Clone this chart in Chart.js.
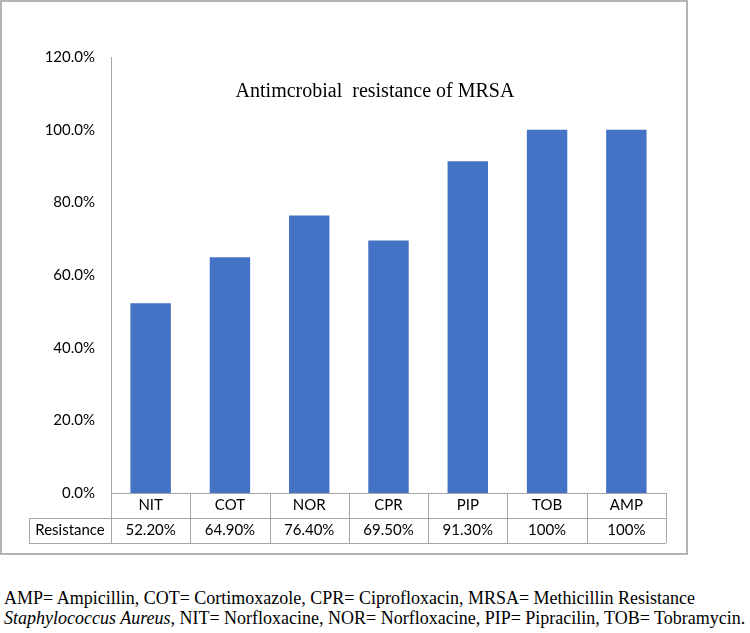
<!DOCTYPE html>
<html>
<head>
<meta charset="utf-8">
<script src="https://cdn.jsdelivr.net/npm/chart.js@4/dist/chart.umd.min.js"></script>
<style>
  html, body { margin: 0; padding: 0; background: #fff; width: 750px; height: 633px; overflow: hidden; }
  #wrap { position: absolute; left: 0; top: 0; width: 750px; height: 560px; }
  #frame { position: absolute; left: 0; top: 0; width: 684px; height: 551px; border: 2px solid #b4b4b4; box-sizing: content-box; pointer-events: none; }
  #caption { position: absolute; left: 4px; top: 588px; font-family: "Liberation Serif", "Times New Roman", serif; font-size: 18px; line-height: 20px; color: #000; white-space: nowrap; }
</style>
</head>
<body>
<div id="wrap"><canvas id="c" width="750" height="560"></canvas></div>
<div id="frame"></div>
<div id="caption">AMP= Ampicillin, COT= Cortimoxazole, CPR= Ciprofloxacin, MRSA= Methicillin Resistance<br><i>Staphylococcus Aureus</i>, NIT= Norfloxacine, NOR= Norfloxacine, PIP= Pipracilin, TOB= Tobramycin.</div>
<script>
const categories = ["NIT", "COT", "NOR", "CPR", "PIP", "TOB", "AMP"];
const resistance = [0.522, 0.649, 0.764, 0.695, 0.913, 1.0, 1.0];
const tableLabels = ["52.20%", "64.90%", "76.40%", "69.50%", "91.30%", "100%", "100%"];
const seriesName = "Resistance";
const chartTitle = "Antimcrobial  resistance of MRSA";

const LINE = "#a6a6a6";
const FONT = "Lato, 'Open Sans', sans-serif";

const tablePlugin = {
  id: "dataTable",
  afterDraw(chart) {
    const ctx = chart.ctx;
    const x = chart.scales.x;
    const area = chart.chartArea;
    const rowH = 25;
    const top = area.bottom;
    const left = area.left, right = area.right;
    const labelLeft = 29;
    const n = categories.length;
    const step = (right - left) / n;
    ctx.save();
    ctx.strokeStyle = LINE;
    ctx.lineWidth = 1;
    ctx.beginPath();
    ctx.moveTo(labelLeft, Math.round(top + rowH) + 0.5); ctx.lineTo(right, Math.round(top + rowH) + 0.5);
    ctx.moveTo(labelLeft, Math.round(top + 2 * rowH) + 0.5); ctx.lineTo(right, Math.round(top + 2 * rowH) + 0.5);
    for (let i = 0; i <= n; i++) {
      const xx = Math.round(left + i * step) + 0.5;
      ctx.moveTo(xx, top); ctx.lineTo(xx, top + 2 * rowH);
    }
    ctx.moveTo(labelLeft + 0.5, top + rowH); ctx.lineTo(labelLeft + 0.5, top + 2 * rowH);
    ctx.stroke();

    ctx.fillStyle = "#000";
    ctx.font = "15px " + FONT;
    ctx.textAlign = "center";
    ctx.textBaseline = "middle";
    ctx.fillText(seriesName, (labelLeft + left) / 2, top + rowH * 1.5);
    tableLabels.forEach((t, i) => {
      ctx.fillText(t, x.getPixelForValue(i), top + rowH * 1.5);
    });

    ctx.font = "20px 'Liberation Serif', 'Times New Roman', serif";
    ctx.fillText(chartTitle, 375, 92);
    ctx.restore();
  }
};

new Chart(document.getElementById("c"), {
  type: "bar",
  data: {
    labels: categories,
    datasets: [{
      label: seriesName,
      data: resistance,
      backgroundColor: "#4472c4",
      borderWidth: 0,
      barPercentage: 0.51,
      categoryPercentage: 1.0
    }]
  },
  options: {
    responsive: false,
    animation: false,
    layout: { padding: { left: 0, right: 84, top: 57, bottom: 17 } },
    plugins: { legend: { display: false }, title: { display: false }, tooltip: { enabled: false } },
    scales: {
      x: {
        grid: { display: false, drawTicks: false },
        border: { display: true, color: LINE, width: 1 },
        ticks: { color: "#000", font: { family: FONT, size: 15 }, padding: 3 },
        afterFit(scale) { scale.height = 50; }
      },
      y: {
        min: 0, max: 1.2,
        grid: { display: false, drawTicks: false },
        border: { display: true, color: LINE, width: 1 },
        ticks: {
          stepSize: 0.2,
          color: "#000",
          font: { family: FONT, size: 15 },
          padding: 16,
          callback: v => (v * 100).toFixed(1) + "%"
        },
        afterFit(scale) { scale.width = 111; }
      }
    }
  },
  plugins: [tablePlugin]
});
</script>
</body>
</html>
